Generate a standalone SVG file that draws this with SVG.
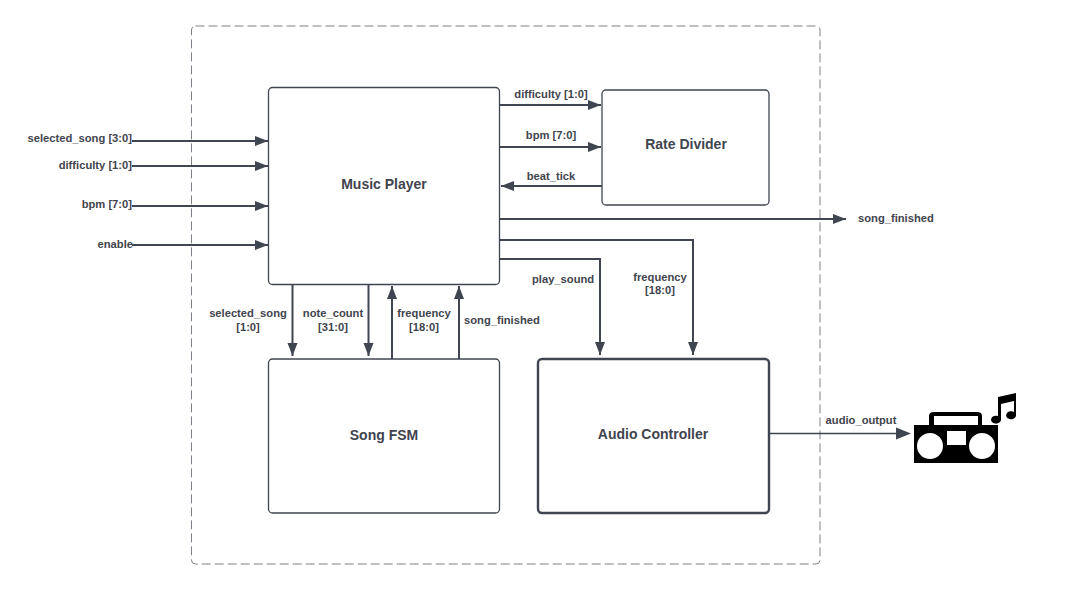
<svg xmlns="http://www.w3.org/2000/svg" width="1074" height="590" viewBox="0 0 1074 590">
<style>
text{font-family:"Liberation Sans",Arial,sans-serif;font-weight:700;fill:#3f444e}
.l{font-size:11.200px}.m{text-anchor:middle}.e{text-anchor:end}
.t{font-size:14px;text-anchor:middle;dominant-baseline:middle}
.n{fill:#fff;stroke:#3f4652;stroke-width:1.300}
.c{fill:none;stroke:#3f4652;stroke-width:2;marker-end:url(#a)}
</style>
<defs><marker id="a" markerUnits="userSpaceOnUse" markerWidth="14" markerHeight="12" refX="13" refY="6" orient="auto"><path d="M0 1 L13 6 L0 11Z" fill="#3f4652"/></marker></defs>
<rect width="1074" height="590" fill="#fff"/>
<rect id="boundary" x="191.500" y="26" width="628.500" height="538" rx="4" fill="none" stroke="#7c8088" stroke-width="1" stroke-dasharray="9 4"/>
<g id="music-player"><rect class="n" x="268.500" y="87.500" width="231" height="197" rx="4"/><text class="t" x="384" y="185">Music Player</text></g>
<g id="rate-divider"><rect class="n" x="602" y="90" width="167" height="115" rx="4"/><text class="t" x="686" y="145">Rate Divider</text></g>
<g id="song-fsm"><rect class="n" x="268.500" y="359" width="231" height="154" rx="4"/><text class="t" x="384" y="436">Song FSM</text></g>
<g id="audio-controller"><rect class="n" style="stroke-width:2.400" x="538" y="359" width="231" height="154" rx="4"/><text class="t" x="653" y="435">Audio Controller</text></g>
<g id="connectors">
<path class="c" d="M132 141H268"/><path class="c" d="M132 166H268"/><path class="c" d="M132 206H268"/><path class="c" d="M132 245H268"/>
<path class="c" d="M500 105H601"/><path class="c" d="M500 147H601"/><path class="c" d="M602 186H501"/>
<path class="c" d="M500 219H846"/>
<path class="c" d="M500 259H600V355"/><path class="c" d="M500 240H693V355"/>
<path class="c" d="M292.500 285V356"/><path class="c" d="M368.500 285V356"/><path class="c" d="M392 359V286"/><path class="c" d="M459 359V286"/>
<path d="M769 433.500H900" fill="none" stroke="#3f4652" stroke-width="1.300"/><path d="M896 427.500L911 433.500L896 439.500Z" fill="#3f4652"/>
</g>
<g id="labels">
<text class="l e" x="132" y="142">selected_song [3:0]</text>
<text class="l e" x="132" y="169">difficulty [1:0]</text>
<text class="l e" x="132" y="208">bpm [7:0]</text>
<text class="l e" x="133" y="248">enable</text>
<text class="l m" x="551" y="98">difficulty [1:0]</text>
<text class="l m" x="551" y="139">bpm [7:0]</text>
<text class="l m" x="551" y="180">beat_tick</text>
<text class="l" x="858" y="222">song_finished</text>
<text class="l" x="532" y="283">play_sound</text>
<text class="l m" x="660" y="281">frequency</text><text class="l m" x="660" y="294">[18:0]</text>
<text class="l m" x="248" y="317">selected_song</text><text class="l m" x="248" y="331">[1:0]</text>
<text class="l m" x="333" y="317">note_count</text><text class="l m" x="333" y="331">[31:0]</text>
<text class="l m" x="424" y="317">frequency</text><text class="l m" x="424" y="331">[18:0]</text>
<text class="l" x="464" y="324">song_finished</text>
<text class="l m" x="861" y="424">audio_output</text>
</g>
<g id="boombox">
<path fill-rule="evenodd" fill="#000" d="M914 425H929V416Q929 412 934 412H977Q982 412 982 416V425H998V463H914ZM934 416V425H978V416ZM947 431V445H966V431ZM930 433A13 13 0 1 0 930 459A13 13 0 1 0 930 433ZM982 433A13 13 0 1 0 982 459A13 13 0 1 0 982 433Z"/>
<path fill="#000" d="M998 397L1016 393V416A5 4 0 1 1 1014 412V401L1001 404V420A5 4 0 1 1 998 416Z"/>
</g>
</svg>
